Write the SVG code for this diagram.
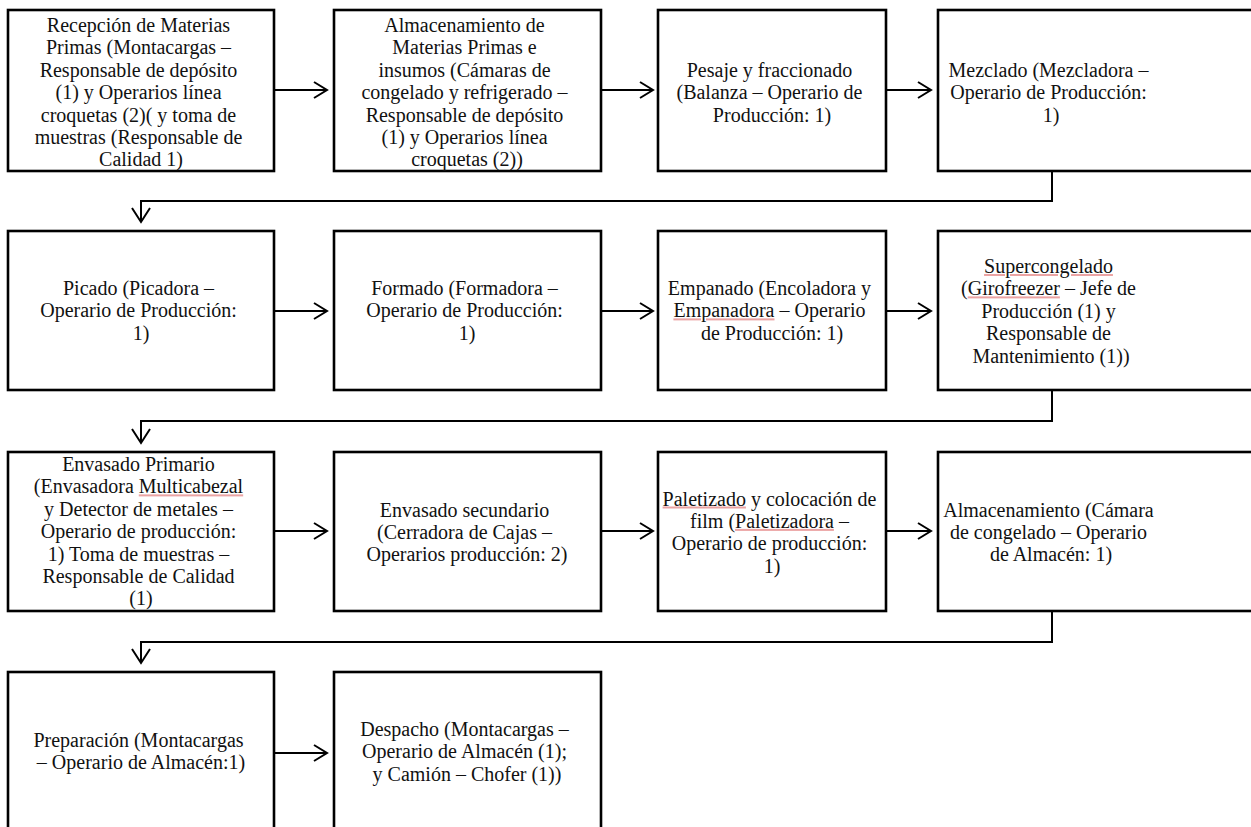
<svg xmlns="http://www.w3.org/2000/svg" width="1251" height="827" viewBox="0 0 1251 827">
  <defs>
    <style>
      .box { fill: #ffffff; stroke: #000000; stroke-width: 2.6; }
      .lbl { font-family: "Liberation Serif", "Times New Roman", serif; font-size: 20px; fill: #111111; text-anchor: middle; }
      .sp { fill: #eba3a3; text-decoration: underline; }
      .sp tspan { fill: #111111; }
      .wire { fill: none; stroke: #000000; stroke-width: 2; }
      .head { fill: none; stroke: #000000; stroke-width: 2; stroke-linejoin: miter; }
    </style>
  </defs>
  <rect width="1251" height="827" fill="#ffffff"/>

  <!-- connectors -->
  <g id="connectors">
    <!-- row 1 -->
    <line class="wire" x1="274" y1="90" x2="327" y2="90"/>
    <polyline class="head" points="314,82 327,90 314,98"/>
    <line class="wire" x1="601" y1="90" x2="653" y2="90"/>
    <polyline class="head" points="640,82 653,90 640,98"/>
    <line class="wire" x1="886" y1="90" x2="931" y2="90"/>
    <polyline class="head" points="918,82 931,90 918,98"/>
    <polyline class="wire" points="1052,171 1052,201 141,201 141,222"/>
    <polyline class="head" points="132,208 141,222 150,208"/>
    <!-- row 2 -->
    <line class="wire" x1="274" y1="311" x2="327" y2="311"/>
    <polyline class="head" points="314,303 327,311 314,319"/>
    <line class="wire" x1="601" y1="311" x2="653" y2="311"/>
    <polyline class="head" points="640,303 653,311 640,319"/>
    <line class="wire" x1="886" y1="311" x2="931" y2="311"/>
    <polyline class="head" points="918,303 931,311 918,319"/>
    <polyline class="wire" points="1052,390 1052,421 141,421 141,443"/>
    <polyline class="head" points="132,429 141,443 150,429"/>
    <!-- row 3 -->
    <line class="wire" x1="274" y1="531" x2="327" y2="531"/>
    <polyline class="head" points="314,523 327,531 314,539"/>
    <line class="wire" x1="601" y1="531" x2="653" y2="531"/>
    <polyline class="head" points="640,523 653,531 640,539"/>
    <line class="wire" x1="886" y1="531" x2="931" y2="531"/>
    <polyline class="head" points="918,523 931,531 918,539"/>
    <polyline class="wire" points="1052,611 1052,642 141,642 141,663"/>
    <polyline class="head" points="132,649 141,663 150,649"/>
    <!-- row 4 -->
    <line class="wire" x1="274" y1="753" x2="327" y2="753"/>
    <polyline class="head" points="314,745 327,753 314,761"/>
  </g>

  <!-- row 1 -->
  <g id="recepcion">
    <rect class="box" x="8" y="10" width="266" height="161"/>
    <text class="lbl">
      <tspan x="141" y="32">Recepción de Materias</tspan>
      <tspan x="141" y="54.4">Primas (Montacargas –</tspan>
      <tspan x="141" y="76.8">Responsable de depósito</tspan>
      <tspan x="141" y="99.2">(1) y Operarios línea</tspan>
      <tspan x="141" y="121.6">croquetas (2)( y toma de</tspan>
      <tspan x="141" y="144">muestras (Responsable de</tspan>
      <tspan x="141" y="166.4">Calidad 1)</tspan>
    </text>
  </g>
  <g id="almacenamiento-mp">
    <rect class="box" x="334" y="10" width="267" height="161"/>
    <text class="lbl">
      <tspan x="467" y="32">Almacenamiento de</tspan>
      <tspan x="467" y="54.4">Materias Primas e</tspan>
      <tspan x="467" y="76.8">insumos (Cámaras de</tspan>
      <tspan x="467" y="99.2">congelado y refrigerado –</tspan>
      <tspan x="467" y="121.6">Responsable de depósito</tspan>
      <tspan x="467" y="144">(1) y Operarios línea</tspan>
      <tspan x="467" y="166.4">croquetas (2))</tspan>
    </text>
  </g>
  <g id="pesaje">
    <rect class="box" x="658" y="10" width="228" height="161"/>
    <text class="lbl">
      <tspan x="772" y="76.8">Pesaje y fraccionado</tspan>
      <tspan x="772" y="99.2">(Balanza – Operario de</tspan>
      <tspan x="772" y="121.6">Producción: 1)</tspan>
    </text>
  </g>
  <g id="mezclado">
    <rect class="box" x="938" y="10" width="330" height="161"/>
    <text class="lbl">
      <tspan x="1051" y="76.8">Mezclado (Mezcladora –</tspan>
      <tspan x="1051" y="99.2">Operario de Producción:</tspan>
      <tspan x="1051" y="121.6">1)</tspan>
    </text>
  </g>

  <!-- row 2 -->
  <g id="picado">
    <rect class="box" x="8" y="231" width="266" height="159"/>
    <text class="lbl">
      <tspan x="141" y="295">Picado (Picadora –</tspan>
      <tspan x="141" y="317.4">Operario de Producción:</tspan>
      <tspan x="141" y="339.8">1)</tspan>
    </text>
  </g>
  <g id="formado">
    <rect class="box" x="334" y="231" width="267" height="159"/>
    <text class="lbl">
      <tspan x="467" y="295">Formado (Formadora –</tspan>
      <tspan x="467" y="317.4">Operario de Producción:</tspan>
      <tspan x="467" y="339.8">1)</tspan>
    </text>
  </g>
  <g id="empanado">
    <rect class="box" x="658" y="231" width="228" height="159"/>
    <text class="lbl">
      <tspan x="772" y="295">Empanado (Encoladora y</tspan>
      <tspan x="772" y="317.4"><tspan class="sp"><tspan>Empanadora</tspan></tspan> – Operario</tspan>
      <tspan x="772" y="339.8">de Producción: 1)</tspan>
    </text>
  </g>
  <g id="supercongelado">
    <rect class="box" x="938" y="231" width="330" height="159"/>
    <text class="lbl">
      <tspan x="1051" y="273"><tspan class="sp"><tspan>Supercongelado</tspan></tspan></tspan>
      <tspan x="1051" y="295.4">(<tspan class="sp"><tspan>Girofreezer</tspan></tspan> – Jefe de</tspan>
      <tspan x="1051" y="317.8">Producción (1) y</tspan>
      <tspan x="1051" y="340.2">Responsable de</tspan>
      <tspan x="1051" y="362.6">Mantenimiento (1))</tspan>
    </text>
  </g>

  <!-- row 3 -->
  <g id="envasado-primario">
    <rect class="box" x="8" y="452" width="266" height="159"/>
    <text class="lbl">
      <tspan x="141" y="471">Envasado Primario</tspan>
      <tspan x="141" y="493.4">(Envasadora <tspan class="sp"><tspan>Multicabezal</tspan></tspan></tspan>
      <tspan x="141" y="515.8">y Detector de metales –</tspan>
      <tspan x="141" y="538.2">Operario de producción:</tspan>
      <tspan x="141" y="560.6">1) Toma de muestras –</tspan>
      <tspan x="141" y="583">Responsable de Calidad</tspan>
      <tspan x="141" y="605.4">(1)</tspan>
    </text>
  </g>
  <g id="envasado-secundario">
    <rect class="box" x="334" y="452" width="267" height="159"/>
    <text class="lbl">
      <tspan x="467" y="516.5">Envasado secundario</tspan>
      <tspan x="467" y="538.9">(Cerradora de Cajas –</tspan>
      <tspan x="467" y="561.3">Operarios producción: 2)</tspan>
    </text>
  </g>
  <g id="paletizado">
    <rect class="box" x="658" y="452" width="228" height="159"/>
    <text class="lbl">
      <tspan x="772" y="505.5"><tspan class="sp"><tspan>Paletizado</tspan></tspan> y colocación de</tspan>
      <tspan x="772" y="527.9">film (<tspan class="sp"><tspan>Paletizadora</tspan></tspan> –</tspan>
      <tspan x="772" y="550.3">Operario de producción:</tspan>
      <tspan x="772" y="572.7">1)</tspan>
    </text>
  </g>
  <g id="almacenamiento">
    <rect class="box" x="938" y="452" width="330" height="159"/>
    <text class="lbl">
      <tspan x="1051" y="516.5">Almacenamiento (Cámara</tspan>
      <tspan x="1051" y="538.9">de congelado – Operario</tspan>
      <tspan x="1051" y="561.3">de Almacén: 1)</tspan>
    </text>
  </g>

  <!-- row 4 -->
  <g id="preparacion">
    <rect class="box" x="8" y="672" width="266" height="170"/>
    <text class="lbl">
      <tspan x="141" y="747">Preparación (Montacargas</tspan>
      <tspan x="141" y="769.4">– Operario de Almacén:1)</tspan>
    </text>
  </g>
  <g id="despacho">
    <rect class="box" x="334" y="672" width="267" height="170"/>
    <text class="lbl">
      <tspan x="467" y="736">Despacho (Montacargas –</tspan>
      <tspan x="467" y="758.4">Operario de Almacén (1);</tspan>
      <tspan x="467" y="780.8">y Camión – Chofer (1))</tspan>
    </text>
  </g>
</svg>
